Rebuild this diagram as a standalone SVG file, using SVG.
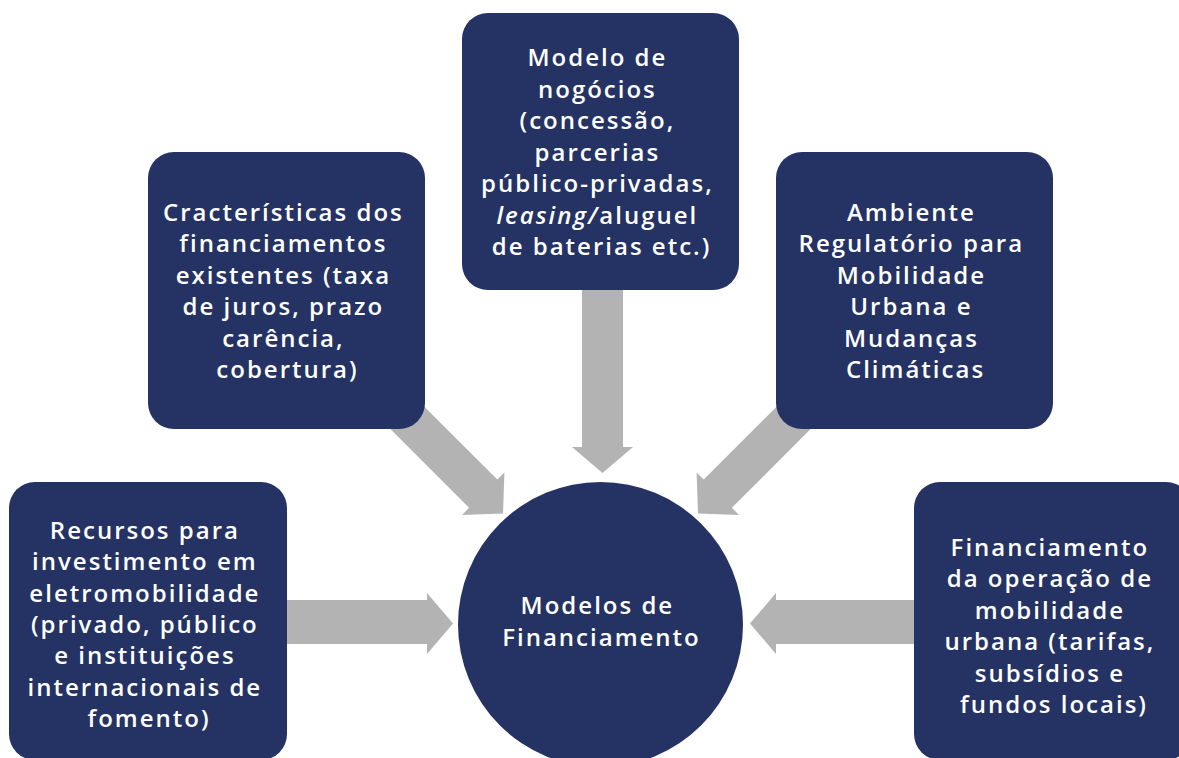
<svg xmlns="http://www.w3.org/2000/svg" width="1179" height="758" viewBox="0 0 1179 758">
<style>
.box{fill:#243264;}
.arr{fill:#b3b3b3;}
.t{font-family:"Open Sans","Noto Sans",sans-serif;font-weight:600;font-size:24px;fill:#ffffff;text-anchor:middle;letter-spacing:2px;}
</style>
<rect width="1179" height="758" fill="#ffffff"/>
<g id="connectors">
<polygon class="arr" points="582,285 623,285 623,447 633,447 602.5,473 572,447 582,447"/>
<polygon class="arr" points="280,600 427,600 427,593 453,623.5 427,654 427,644 280,644"/>
<polygon class="arr" points="921,600 776,600 776,593 750,623.5 776,654 776,644 921,644"/>
<polygon class="arr" points="404.1,386.4 497.3,479.6 504.4,472.5 503,513.5 462,514.9 469.1,507.8 375.9,414.6"/>
<polygon class="arr" points="796.9,386.4 703.7,479.6 696.6,472.5 698,513.5 739,514.9 731.9,507.8 825.1,414.6"/>
</g>
<g id="node-modelo-negocios">
<rect class="box" x="462" y="13" width="277" height="277" rx="26"/>
<text class="t">
<tspan x="601.5" y="66">Modelo de</tspan>
<tspan x="601.5" y="97.5">nogócios</tspan>
<tspan x="601.5" y="129">(concessão,</tspan>
<tspan x="601.5" y="160.5">parcerias</tspan>
<tspan x="601.5" y="192">público-privadas,</tspan>
<tspan x="601.5" y="223.5"><tspan font-style="italic">leasing/</tspan>aluguel</tspan>
<tspan x="601.5" y="255">de baterias etc.)</tspan>
</text>
</g>
<g id="node-caracteristicas">
<rect class="box" x="148" y="152" width="277" height="277" rx="26"/>
<text class="t">
<tspan x="287.5" y="220.5">Cracterísticas dos</tspan>
<tspan x="287.5" y="252">financiamentos</tspan>
<tspan x="287.5" y="283.5">existentes (taxa</tspan>
<tspan x="287.5" y="315">de juros, prazo</tspan>
<tspan x="287.5" y="346.5">carência,</tspan>
<tspan x="287.5" y="378">cobertura)</tspan>
</text>
</g>
<g id="node-ambiente">
<rect class="box" x="776" y="152" width="277" height="277" rx="26"/>
<text class="t">
<tspan x="915.5" y="220.5">Ambiente</tspan>
<tspan x="915.5" y="252">Regulatório para</tspan>
<tspan x="915.5" y="283.5">Mobilidade</tspan>
<tspan x="915.5" y="315">Urbana e</tspan>
<tspan x="915.5" y="346.5">Mudanças</tspan>
<tspan x="915.5" y="378">Climáticas</tspan>
</text>
</g>
<g id="node-recursos">
<rect class="box" x="9" y="482" width="278" height="278" rx="26"/>
<text class="t">
<tspan x="149" y="539">Recursos para</tspan>
<tspan x="149" y="570.3">investimento em</tspan>
<tspan x="149" y="601.6">eletromobilidade</tspan>
<tspan x="149" y="632.9">(privado, público</tspan>
<tspan x="149" y="664.2">e instituições</tspan>
<tspan x="149" y="695.5">internacionais de</tspan>
<tspan x="149" y="726.8">fomento)</tspan>
</text>
</g>
<g id="node-financiamento-operacao">
<rect class="box" x="914" y="482" width="278" height="278" rx="26"/>
<text class="t">
<tspan x="1054" y="556">Financiamento</tspan>
<tspan x="1054" y="587.4">da operação de</tspan>
<tspan x="1054" y="618.8">mobilidade</tspan>
<tspan x="1054" y="650.2">urbana (tarifas,</tspan>
<tspan x="1054" y="681.6">subsídios e</tspan>
<tspan x="1054" y="713">fundos locais)</tspan>
</text>
</g>
<g id="node-modelos-financiamento">
<circle class="box" cx="600.5" cy="624.5" r="142.5"/>
<text class="t">
<tspan x="601.5" y="613.5">Modelos de</tspan>
<tspan x="601.5" y="645.5">Financiamento</tspan>
</text>
</g>
</svg>
